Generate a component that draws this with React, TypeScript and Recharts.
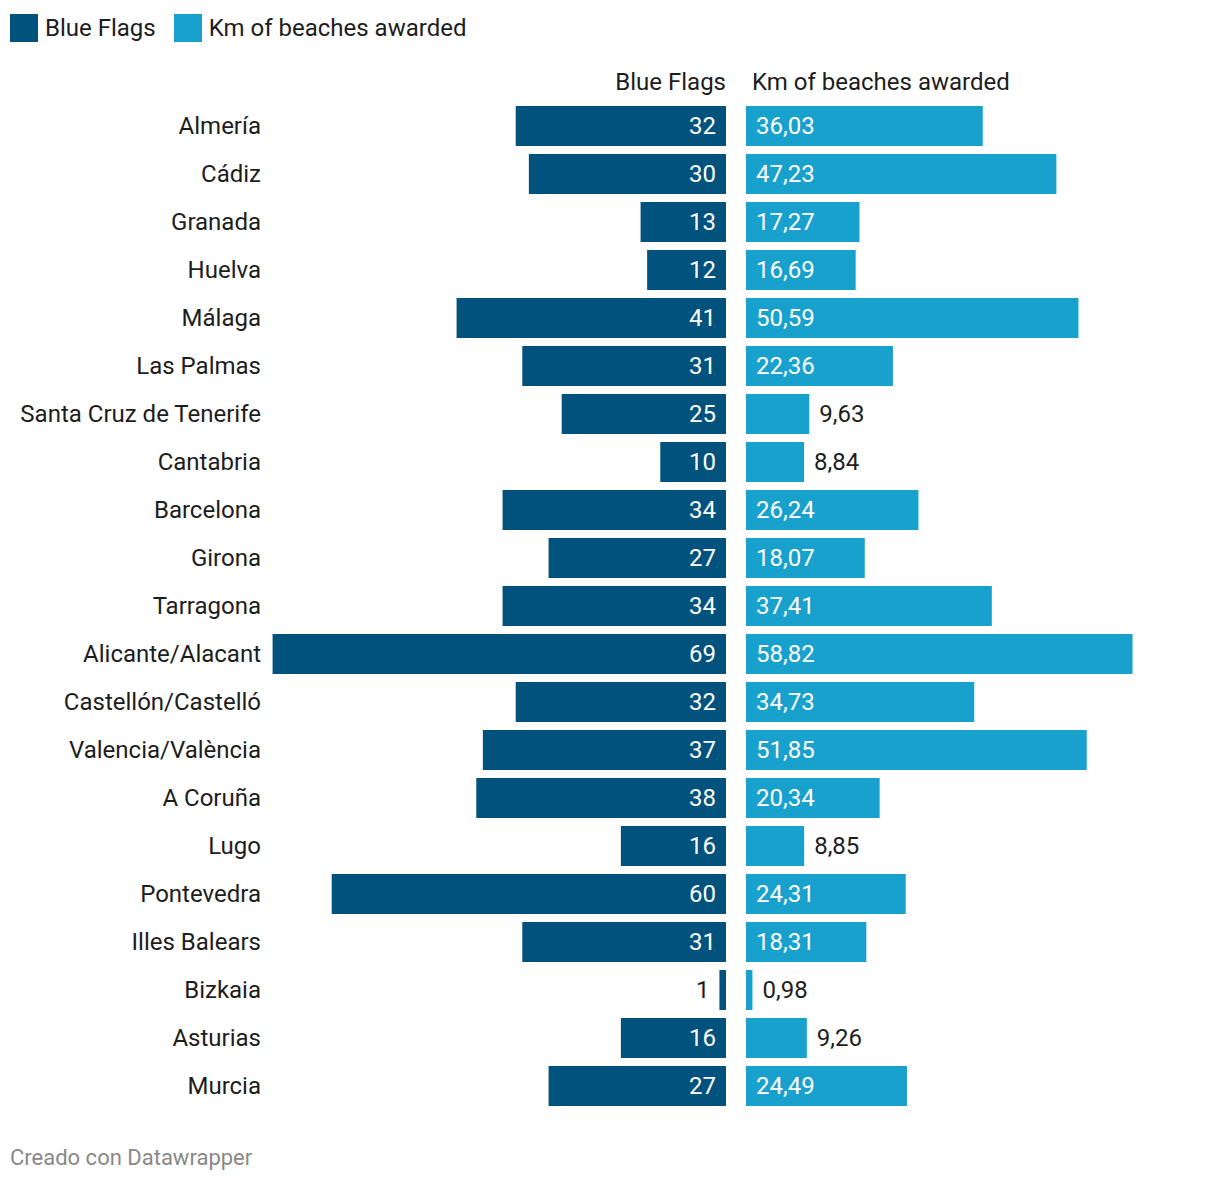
import { BarChart, Bar, XAxis, YAxis, LabelList } from "recharts";

const provinces = [
  "Almería",
  "Cádiz",
  "Granada",
  "Huelva",
  "Málaga",
  "Las Palmas",
  "Santa Cruz de Tenerife",
  "Cantabria",
  "Barcelona",
  "Girona",
  "Tarragona",
  "Alicante/Alacant",
  "Castellón/Castelló",
  "Valencia/València",
  "A Coruña",
  "Lugo",
  "Pontevedra",
  "Illes Balears",
  "Bizkaia",
  "Asturias",
  "Murcia",
];

const blueFlags = [32, 30, 13, 12, 41, 31, 25, 10, 34, 27, 34, 69, 32, 37, 38, 16, 60, 31, 1, 16, 27];

const kmAwarded = [
  36.03, 47.23, 17.27, 16.69, 50.59, 22.36, 9.63, 8.84, 26.24, 18.07, 37.41, 58.82, 34.73, 51.85,
  20.34, 8.85, 24.31, 18.31, 0.98, 9.26, 24.49,
];

const seriesNames = ["Blue Flags", "Km of beaches awarded"];

const data = provinces.map((name, i) => ({
  name,
  flags: blueFlags[i],
  km: kmAwarded[i],
}));

const DARK = "#01527c";
const LIGHT = "#18a1cd";
const TEXT = "#1d1d1d";
const FONT = "Roboto, sans-serif";
const FS = 24;

// datawrapper-ish rule: label goes inside when there's room for it
const fitsInside = (w: number, label: string) => w >= label.length * 11 + 22;

const FlagLabel = (props: any) => {
  const { x, y, width, height, value } = props;
  const left = Math.min(x, x + width);
  const right = Math.max(x, x + width);
  const w = Math.abs(width);
  const label = String(value);
  const inside = fitsInside(w, label);
  return (
    <text
      x={inside ? right - 10 : left - 10}
      y={y + height / 2}
      dy="0.35em"
      textAnchor="end"
      fill={inside ? "#ffffff" : TEXT}
      fontSize={FS}
      fontFamily={FONT}
    >
      {label}
    </text>
  );
};

const KmLabel = (props: any) => {
  const { x, y, width, height, value } = props;
  const left = Math.min(x, x + width);
  const right = Math.max(x, x + width);
  const w = Math.abs(width);
  const label = Number(value).toFixed(2).replace(".", ",");
  const inside = fitsInside(w, label);
  return (
    <text
      x={inside ? left + 10 : right + 10}
      y={y + height / 2}
      dy="0.35em"
      textAnchor="start"
      fill={inside ? "#ffffff" : TEXT}
      fontSize={FS}
      fontFamily={FONT}
    >
      {label}
    </text>
  );
};

const CategoryTick = (props: any) => {
  const { x, y, payload } = props;
  return (
    <text x={x} y={y} dy="0.35em" textAnchor="end" fill={TEXT} fontSize={FS} fontFamily={FONT}>
      {payload.value}
    </text>
  );
};

const App = () => {
  return (
    <div
      style={{
        position: "absolute",
        left: 0,
        top: 0,
        width: 1220,
        height: 1184,
        background: "#fff",
        fontFamily: FONT,
        color: TEXT,
      }}
    >
      {/* legend */}
      <div style={{ position: "absolute", left: 10, top: 14, display: "flex", alignItems: "center", fontSize: FS }}>
        <div style={{ width: 28, height: 28, background: DARK, marginRight: 7 }}></div>
        <span style={{ marginRight: 18, lineHeight: "26px" }}>{seriesNames[0]}</span>
        <div style={{ width: 28, height: 28, background: LIGHT, marginRight: 7 }}></div>
        <span style={{ lineHeight: "26px" }}>{seriesNames[1]}</span>
      </div>

      {/* column headers */}
      <div
        style={{
          position: "absolute",
          right: 1220 - 726,
          top: 68,
          fontSize: FS,
          lineHeight: "28px",
          textAlign: "right",
        }}
      >
        {seriesNames[0]}
      </div>
      <div style={{ position: "absolute", left: 752, top: 68, fontSize: FS, lineHeight: "28px" }}>
        {seriesNames[1]}
      </div>

      <div style={{ position: "absolute", left: 0, top: 0 }}>
        <BarChart
          width={726}
          height={1184}
          data={data}
          layout="vertical"
          margin={{ top: 102, right: 0, bottom: 74, left: 0 }}
        >
          <XAxis type="number" dataKey="flags" domain={[0, 70]} tickCount={8} reversed hide />
          <YAxis
            type="category"
            dataKey="name"
            width={266}
            axisLine={false}
            tickLine={false}
            tickSize={0}
            tickMargin={5}
            interval={0}
            tick={<CategoryTick />}
          />
          <Bar dataKey="flags" fill={DARK} barSize={40} isAnimationActive={false}>
            <LabelList dataKey="flags" content={<FlagLabel />} />
          </Bar>
        </BarChart>
      </div>

      <div style={{ position: "absolute", left: 746, top: 0 }}>
        <BarChart
          width={474}
          height={1184}
          data={data}
          layout="vertical"
          margin={{ top: 102, right: 14, bottom: 74, left: 0 }}
        >
          <XAxis type="number" dataKey="km" domain={[0, 70]} tickCount={8} hide />
          <YAxis type="category" dataKey="name" hide />
          <Bar dataKey="km" fill={LIGHT} barSize={40} isAnimationActive={false}>
            <LabelList dataKey="km" content={<KmLabel />} />
          </Bar>
        </BarChart>
      </div>

      {/* footer */}
      <div style={{ position: "absolute", left: 10, top: 1145, fontSize: 22, color: "#888888", lineHeight: "26px" }}>
        Creado con Datawrapper
      </div>
    </div>
  );
};

export default App;
